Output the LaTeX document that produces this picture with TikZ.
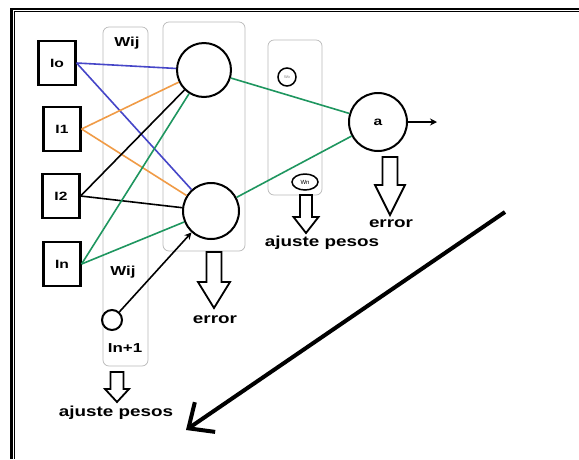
\documentclass[tikz,border=0pt]{standalone}
\usepackage{fontspec}
\setmainfont{Liberation Sans}
\newfontfamily\lblfont[FakeStretch=1.3]{Liberation Sans}
\usetikzlibrary{arrows.meta,shapes.geometric}
\definecolor{wblue}{RGB}{70,70,200}
\definecolor{worange}{RGB}{240,155,70}
\definecolor{wgreen}{RGB}{30,150,95}
\tikzset{
  inbox/.style={draw,line width=2.2pt,minimum width=37pt,minimum height=44pt,inner sep=0pt,font=\lblfont\bfseries\fontsize{12}{14}\selectfont},
  neuron/.style={draw,circle,line width=2pt,inner sep=0pt},
  panel/.style={draw=gray!55,rounded corners=6pt,line width=.7pt,inner sep=0pt},
  small/.style={font=\lblfont\bfseries\fontsize{13}{15}\selectfont},
  txt/.style={font=\lblfont\bfseries\fontsize{14.5}{16}\selectfont},
  wire/.style={line width=1.6pt},
}
% hollow arrow pointing down: x, top, tip, shaft half width, head half width, head start
\newcommand{\hollowarrow}[6]{%
  \draw[line width=1.8pt,line join=miter] (#1-#4,#2) -- (#1+#4,#2) -- (#1+#4,#6) -- (#1+#5,#6)
    -- (#1,#3) -- (#1-#5,#6) -- (#1-#4,#6) -- cycle;}
\begin{document}
\begin{tikzpicture}[x=1pt,y=-1pt,>={Stealth[length=7pt,width=7pt]}]
\useasboundingbox (0,0) rectangle (579,459);
\fill[white] (0,0) rectangle (579,459);
% frame
\draw[line width=2.2pt] (11.3,9.3)--(579,9.3);\draw[line width=2.5pt] (11.3,8.2)--(11.3,459);
\draw[line width=1.2pt] (14.2,11.8)--(579,11.8);\draw[line width=1.2pt] (14.2,11.2)--(14.2,459);
% panels
\node[panel,minimum width=45pt,minimum height=339pt] (wcol) at (125.5,196.5) {};
\node[panel,minimum width=82pt,minimum height=229pt] (hcol) at (204,136.5) {};
\node[panel,minimum width=54pt,minimum height=155pt] (ocol) at (295,117.5) {};
% inputs
\node[inbox] (i0) at (57,63) {Io};
\node[inbox] (i1) at (62,129) {I1};
\node[inbox] (i2) at (61,196) {I2};
\node[inbox] (in) at (62,264) {In};
% neurons
\node[neuron,minimum size=54pt] (h1) at (204,70) {};
\node[neuron,minimum size=56pt] (h2) at (211,211) {};
\node[neuron,minimum size=58pt,font=\lblfont\bfseries\fontsize{12}{14}\selectfont] (out) at (378,122) {a};
\node[neuron,minimum size=20pt] (b) at (112,320) {};
\node[neuron,minimum size=18pt,line width=1.5pt,font=\fontsize{4}{5}\selectfont,text=gray] (w0) at (287,77) {Wo};
\node[draw,ellipse,line width=1.5pt,minimum width=26pt,minimum height=16pt,inner sep=0pt,font=\fontsize{6}{7}\selectfont] (wn) at (305,182) {Wn};
% weights
\draw[wire,wblue] (i0.east)--(h1);\draw[wire,wblue] (i0.east)--(h2);
\draw[wire,worange] (i1.east)--(h1);\draw[wire,worange] (i1.east)--(h2);
\draw[wire] (i2.east)--(h1);\draw[wire] (i2.east)--(h2);
\draw[wire,wgreen] (in.east)--(h1);\draw[wire,wgreen] (in.east)--(h2);
\draw[wire,wgreen] (h1)--(out);\draw[wire,wgreen] (h2)--(out);
\draw[wire,->] (b)--(h2);
\coordinate (oe) at (437,122);
\draw[wire,->] (out)--(oe);
% labels
\node[small] (wtop) at (127,43) {Wij};
\node[small] (wbot) at (123,272) {Wij};
\node[small] (blbl) at (125,348) {In+1};
\node[txt] (err1) at (215,320) {error};
\node[txt] (err2) at (391,224) {error};
\node[txt] (adj1) at (116,413) {ajuste pesos};
\node[txt] (adj2) at (322,243) {ajuste pesos};
% hollow arrows
\hollowarrow{214}{252}{308}{7.5}{16}{282}
\hollowarrow{390}{157}{215}{7.5}{15}{185}
\hollowarrow{117}{372}{402}{6.5}{12}{389}
\hollowarrow{306}{195}{233}{6}{12.5}{217}
% big arrow
\coordinate (ds) at (505,212);\coordinate (de) at (186,430);
\draw[line width=4pt,-{Straight Barb[length=20pt,width=36pt,line width=4pt]}] (ds)--(de);
\end{tikzpicture}
\end{document}
